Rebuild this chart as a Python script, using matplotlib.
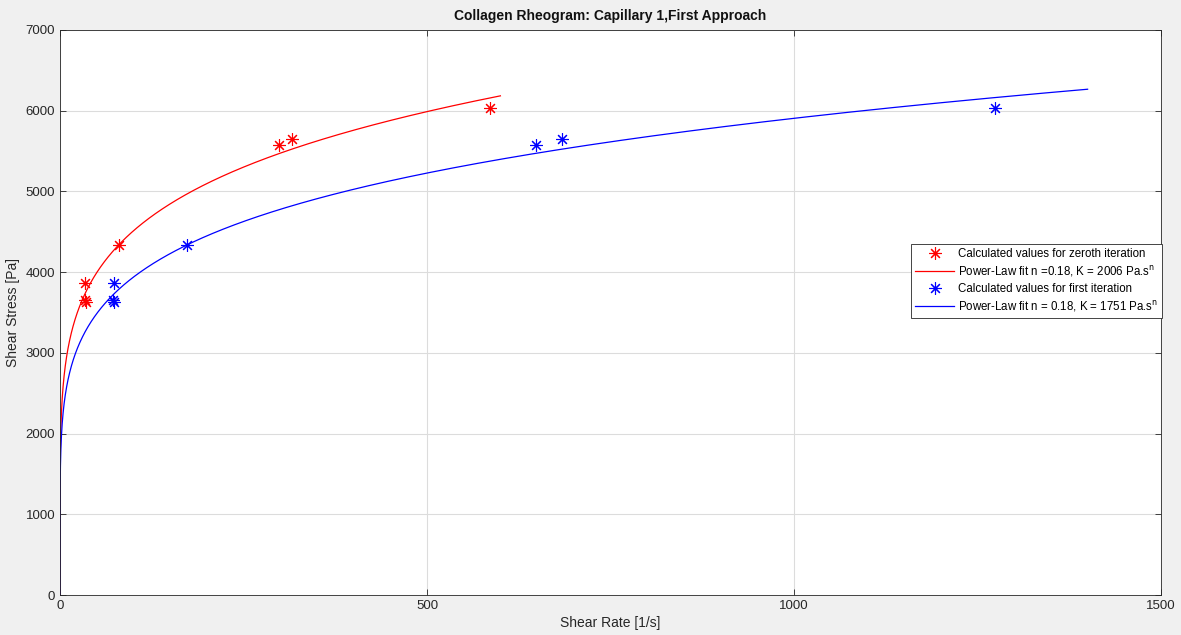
import numpy as np
import matplotlib.pyplot as plt

plt.rcParams['font.family'] = ['Liberation Sans', 'DejaVu Sans']

# data
rate_zeroth = [34, 34, 35, 80, 298, 316, 586]
rate_first = [73, 72, 74, 173, 648, 684, 1274]
stress = [3870, 3660, 3630, 4340, 5570, 5650, 6030]

n_fit = 0.176
K_zeroth = 2006
K_first = 1751
xmax_zeroth = 600
xmax_first = 1400

x0 = np.linspace(0, xmax_zeroth, 6001)
x1 = np.linspace(0, xmax_first, 14001)

fig = plt.figure(figsize=(11.81, 6.35), dpi=100, facecolor='#f0f0f0')
ax = fig.add_axes([60 / 1181, 40 / 635, 1101 / 1181, 565 / 635])
ax.set_facecolor('white')

ast = (8, 2, 0)
ax.plot(rate_zeroth, stress, linestyle='none', marker=ast, color='red',
        markersize=9, markeredgewidth=0.8, label='Calculated values for zeroth iteration')
ax.plot(x0, K_zeroth * x0 ** n_fit, color='red', lw=0.9,
        label='Power-Law fit n =0.18, K = 2006 Pa.s$^{\\mathrm{n}}$')
ax.plot(rate_first, stress, linestyle='none', marker=ast, color='blue',
        markersize=9, markeredgewidth=0.8, label='Calculated values for first iteration')
ax.plot(x1, K_first * x1 ** n_fit, color='blue', lw=0.9,
        label='Power-Law fit n = 0.18, K = 1751 Pa.s$^{\\mathrm{n}}$')

ax.set_xlim(0, 1500)
ax.set_ylim(0, 7000)
ax.set_xticks([0, 500, 1000, 1500])
ax.set_yticks(range(0, 7001, 1000))
ax.grid(True, color='#dcdcdc', lw=0.8)
ax.set_axisbelow(True)
for s in ax.spines.values():
    s.set_color('#262626')
    s.set_linewidth(0.6)
ax.tick_params(direction='in', length=4, width=0.6, labelsize=9.5,
               colors='#262626', top=True, right=True, labeltop=False, labelright=False)

ax.set_xlabel('Shear Rate [1/s]', fontsize=10, color='#262626', labelpad=3)
ax.set_ylabel('Shear Stress [Pa]', fontsize=10, color='#262626', labelpad=4)
ax.set_title('Collagen Rheogram: Capillary 1,First Approach', fontsize=10,
             fontweight='bold', color='#111111', pad=7)

leg = ax.legend(loc='center right', bbox_to_anchor=(1.001, 0.556), fontsize=8.3,
                fancybox=False, framealpha=1, edgecolor='#262626',
                handlelength=3.4, handletextpad=0.3, borderpad=0.35, labelspacing=0.35,
                borderaxespad=0)
leg.get_frame().set_linewidth(0.6)

fig.savefig('out.png', dpi=100, facecolor=fig.get_facecolor())
